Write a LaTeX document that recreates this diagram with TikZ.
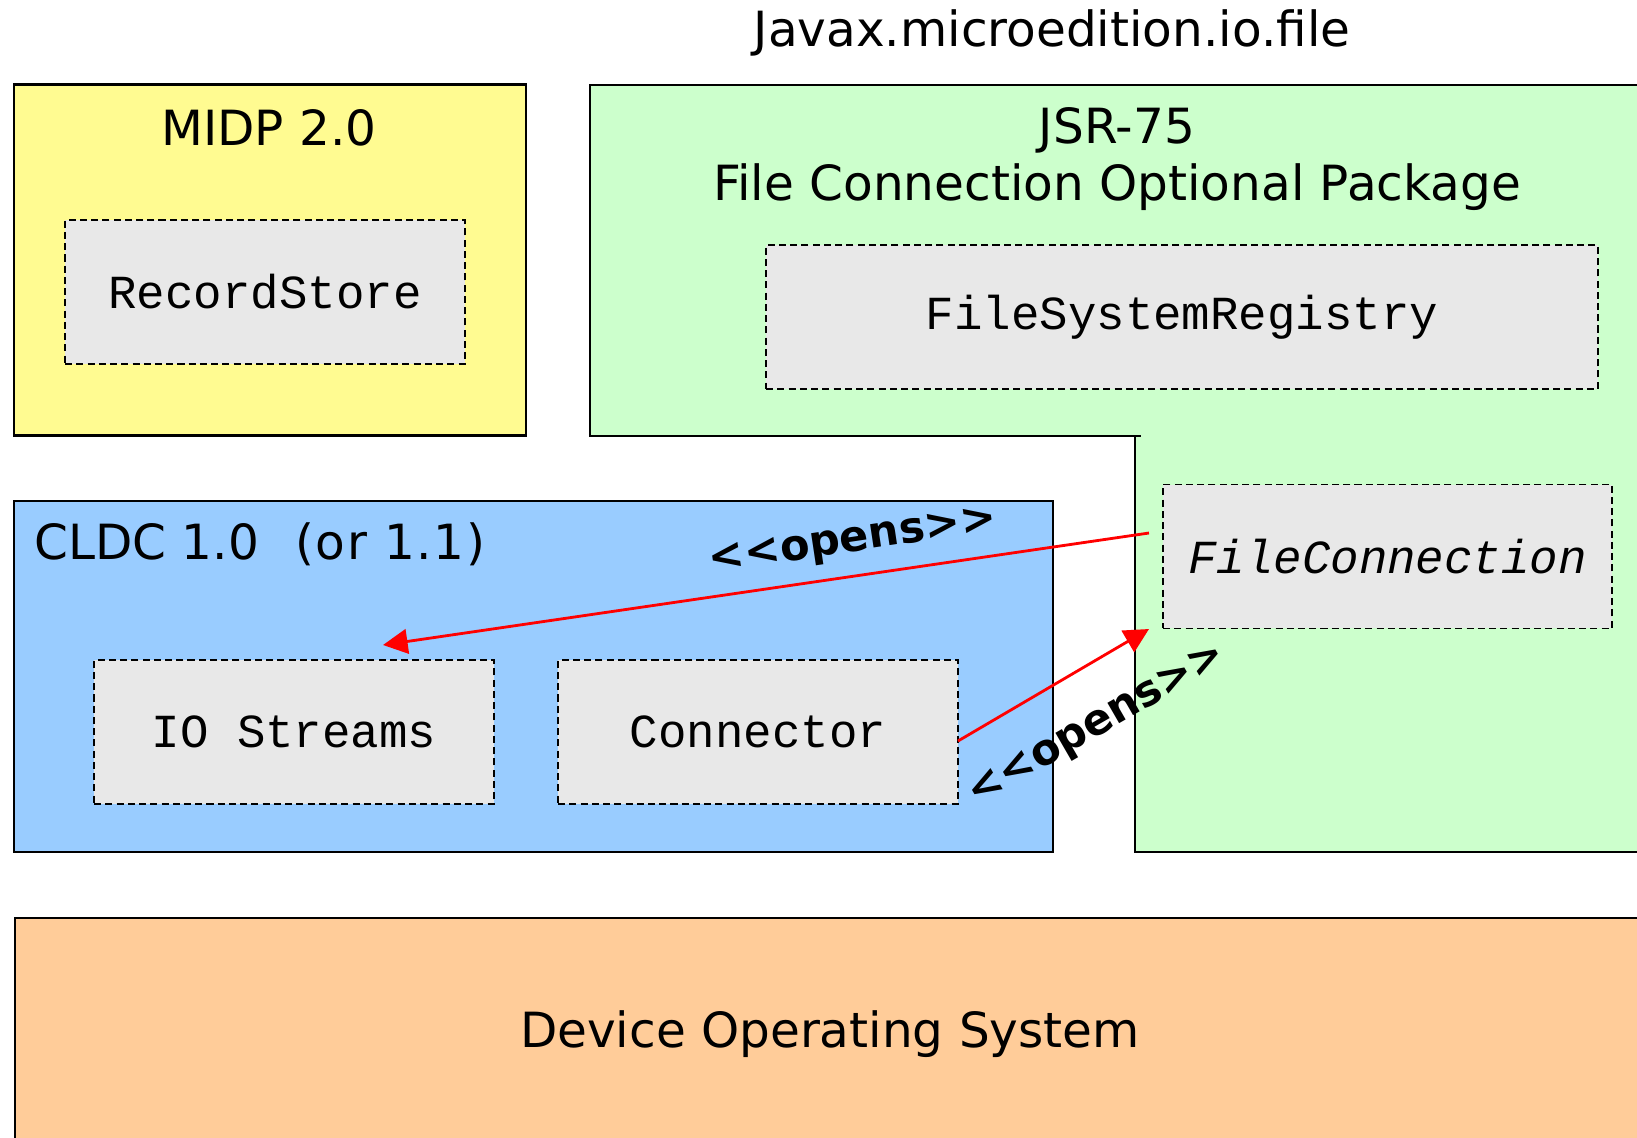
\documentclass[tikz,border=0pt]{standalone}
\usepackage{fontspec}
\setmainfont{DejaVu Sans}
\setmonofont{Liberation Mono}
\newfontfamily\opensfont[BoldFont={DejaVu Sans Bold}]{DejaVu Sans}
\newfontfamily\widefont[LetterSpace=3.5]{DejaVu Sans}
\usetikzlibrary{arrows.meta}
\definecolor{midpc}{HTML}{FFFB91}
\definecolor{jsrc}{HTML}{CCFFCC}
\definecolor{cldcc}{HTML}{99CCFF}
\definecolor{osc}{HTML}{FFCC99}
\definecolor{inc}{HTML}{E8E8E8}
\tikzset{
  bigtxt/.style={font=\fontsize{27.6}{33}\selectfont, inner sep=0pt, align=center},
  container/.style={draw=black, line width=1.2pt, inner sep=0pt},
  inbox/.style={draw=black, fill=inc, line width=1pt, dash pattern=on 4pt off 2.4pt,
    minimum height=2.88cm, inner sep=0pt, font=\ttfamily\fontsize{27}{32}\selectfont},
  opensarrow/.style={draw=red, line width=1.6pt, -{Triangle[length=14pt,width=14pt]}},
  openslabel/.style={font=\opensfont\bfseries\fontsize{24.5}{28}\selectfont, inner sep=0pt}
}
\begin{document}
\begin{tikzpicture}[x=0.02cm,y=-0.02cm]
\clip (0,0) rectangle (1637,1137);
\fill[white] (0,0) rectangle (1637,1137);
% title
\node[bigtxt] (title) at (1052,33) {Javax.microedition.io.file};
% MIDP
\node[container, fill=midpc, minimum width=10.24cm, minimum height=7.02cm] (midp) at (270,260) {};
\node[bigtxt] (midpt) at (269,128) {MIDP 2.0};
\node[inbox, minimum width=8cm] (rs) at (265,292) {RecordStore};
% JSR-75
\fill[jsrc] (590,85) -- (1700,85) -- (1700,852) -- (1135,852) -- (1135,436) -- (590,436) -- cycle;
\draw[line width=1.2pt] (1700,85) -- (590,85) -- (590,436) -- (1141,436);
\draw[line width=1.2pt] (1135,436) -- (1135,852) -- (1700,852);
\node[bigtxt] (jsrt) at (1117,159) {JSR-75\\[-1pt]File Connection Optional Package};
\node[inbox, minimum width=16.64cm] (fsr) at (1182,317) {FileSystemRegistry};
\node[inbox, minimum width=8.98cm, font=\ttfamily\itshape\fontsize{27}{32}\selectfont] (fc) at (1387.5,556.5) {FileConnection};
% CLDC
\node[container, fill=cldcc, minimum width=20.8cm, minimum height=7.02cm] (cldc) at (533.5,676.5) {};
\node[bigtxt, anchor=west] (cldct) at (34,544) {CLDC 1.0\hspace{0.75em}{\widefont(or 1.1)}};
\node[inbox, minimum width=8cm] (ios) at (294,732) {IO Streams};
\node[inbox, minimum width=8cm] (con) at (758,732) {Connector};
% OS
\node[container, fill=osc, minimum width=33cm, minimum height=5cm, anchor=north west] (os) at (13.6,917) {};
\node[bigtxt] (ost) at (830,1034) {Device Operating System};
% arrows
\coordinate (o1s) at (1149,533);
\coordinate (o1e) at (383,645);
\coordinate (o2s) at (958,741);
\coordinate (o2e) at (1149,629);
\draw[opensarrow] (o1s) -- (o1e);
\draw[opensarrow] (o2s) -- (o2e);
\node[openslabel, rotate=8.5] (l1) at (853,543) {<<opens>>};
\node[openslabel, rotate=30] (l2) at (1098,727) {<<opens>>};
\end{tikzpicture}
\end{document}
